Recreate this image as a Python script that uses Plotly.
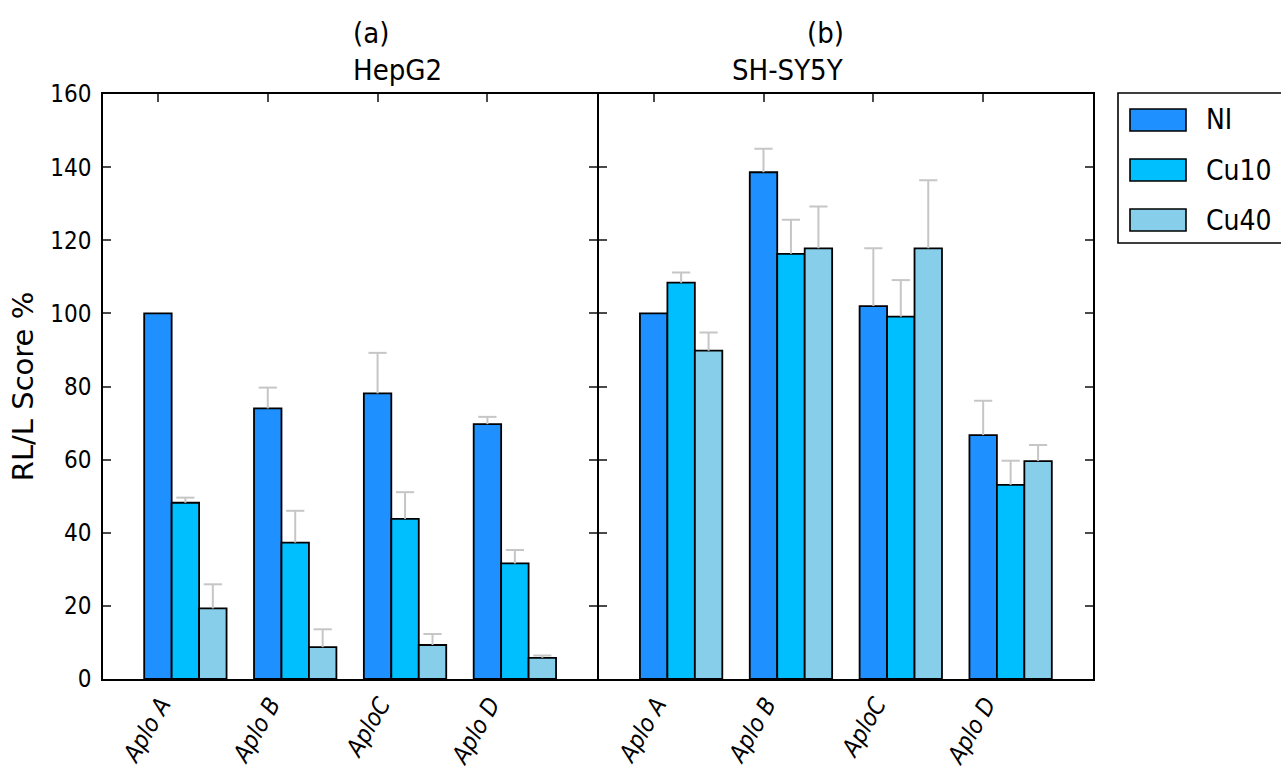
import plotly.graph_objects as go

# Data
categories = ["Aplo A", "Aplo B", "AploC", "Aplo D"]
series_names = ["NI", "Cu10", "Cu40"]
colors = ["#1E90FF", "#00BFFF", "#87CEEB"]

hepg2_mean = {
    "NI":   [100.0, 74.0, 78.1, 69.7],
    "Cu10": [48.2, 37.3, 43.8, 31.6],
    "Cu40": [19.3, 8.7, 9.3, 5.8],
}
hepg2_sd = {
    "NI":   [0.0, 5.7, 11.1, 2.0],
    "Cu10": [1.4, 8.7, 7.3, 3.7],
    "Cu40": [6.6, 4.9, 3.0, 0.6],
}
shsy5y_mean = {
    "NI":   [100.0, 138.6, 102.0, 66.7],
    "Cu10": [108.4, 116.3, 99.1, 53.1],
    "Cu40": [89.8, 117.8, 117.8, 59.6],
}
shsy5y_sd = {
    "NI":   [0.0, 6.4, 15.8, 9.4],
    "Cu10": [2.8, 9.3, 10.0, 6.6],
    "Cu40": [5.0, 11.4, 18.6, 4.4],
}
y_ticks = [0, 20, 40, 60, 80, 100, 120, 140, 160]

BAR_W = 0.25
FONT = "DejaVu Sans Condensed, DejaVu Sans, sans-serif"
ERR_COLOR = "#c6c6c6"

# Page geometry (pixels)
W, H = 1281, 774
L, R, T, B = 103, 188, 94, 95
plot_w = W - L - R
plot_h = H - T - B
gap = 1.5 / plot_w  # lets the two shared border lines coincide

fig = go.Figure()

panels = [
    ("x", "y", hepg2_mean, hepg2_sd),
    ("x2", "y2", shsy5y_mean, shsy5y_sd),
]
for xa, ya, means, sds in panels:
    for k, name in enumerate(series_names):
        xs = [i + k * BAR_W for i in range(len(categories))]
        fig.add_trace(
            go.Bar(
                x=xs, y=means[name], width=BAR_W, name=name,
                xaxis=xa, yaxis=ya,
                marker=dict(color=colors[k], line=dict(color="black", width=1.8)),
                error_y=dict(type="data", symmetric=False, array=sds[name],
                             arrayminus=[0] * len(categories),
                             color=ERR_COLOR, thickness=2, width=0),
                showlegend=False,
            )
        )
    # error-bar caps (upper end only)
    for k, name in enumerate(series_names):
        xs = [i + k * BAR_W for i in range(len(categories))]
        tops = [m + s if s > 0 else None for m, s in zip(means[name], sds[name])]
        fig.add_trace(
            go.Scatter(
                x=xs, y=tops, xaxis=xa, yaxis=ya, mode="markers",
                marker=dict(symbol="line-ew", size=13, color=ERR_COLOR,
                            line=dict(color=ERR_COLOR, width=2)),
                showlegend=False, hoverinfo="skip",
            )
        )

axis_common = dict(
    showline=True, linecolor="black", linewidth=1.6, mirror="ticks",
    ticks="inside", ticklen=8, tickcolor="#4a4a4a", tickwidth=1.5,
    showgrid=False, zeroline=False, automargin=False,
)
xaxis_common = dict(
    range=[-0.5, 4.0],
    tickvals=list(range(len(categories))),
    ticktext=categories,
    tickangle=-60,
    tickfont=dict(family=FONT, size=24, color="black", style="italic"),
    ticklabelshift=3,
    ticklabelstandoff=0,
    layer="below traces",
    **axis_common,
)
yaxis_common = dict(range=[0, 160], tickvals=y_ticks, **axis_common)

fig.update_layout(
    xaxis=dict(domain=[0, 0.5 - gap / 2], anchor="y", **xaxis_common),
    xaxis2=dict(domain=[0.5 + gap / 2, 1], anchor="y2", **xaxis_common),
    yaxis=dict(anchor="x", tickfont=dict(family=FONT, size=24, color="black"),
               ticklabelstandoff=5,
               title=dict(text="RL/L Score %", standoff=8,
                          font=dict(family="DejaVu Sans, sans-serif", size=29, color="black")),
               **yaxis_common),
    yaxis2=dict(anchor="x2", matches="y", showticklabels=False, **yaxis_common),
)

def px_x(p):
    return (p - L) / plot_w

def px_y(p):
    return (H - B - p) / plot_h

# Panel titles
titles = [("(a)", "HepG2", 0.25), ("(b)", "SH-SY5Y", 0.75)]
for letter, cell, xc in titles:
    fig.add_annotation(x=xc, y=px_y(33), xref="paper", yref="paper", yanchor="middle",
                       text=letter, showarrow=False,
                       font=dict(family=FONT, size=29, color="black"))
    fig.add_annotation(x=xc, y=px_y(70), xref="paper", yref="paper", yanchor="middle",
                       text=cell, showarrow=False,
                       font=dict(family=FONT, size=29, color="black"))

# Legend box with wide patches
fig.add_shape(type="rect", xref="paper", yref="paper",
              x0=px_x(1118), x1=px_x(1300), y0=px_y(243), y1=px_y(93),
              line=dict(color="black", width=1.6), fillcolor="white")
for k, name in enumerate(series_names):
    yc = 120 + 50 * k
    fig.add_shape(type="rect", xref="paper", yref="paper",
                  x0=px_x(1130), x1=px_x(1186), y0=px_y(yc + 11), y1=px_y(yc - 11),
                  line=dict(color="black", width=1.6), fillcolor=colors[k])
    fig.add_annotation(x=px_x(1204), y=px_y(yc), xref="paper", yref="paper",
                       xanchor="left", yanchor="middle", text=name, showarrow=False,
                       font=dict(family=FONT, size=28, color="black"))

fig.update_layout(
    width=W, height=H,
    margin=dict(l=L, r=R, t=T, b=B, autoexpand=False),
    paper_bgcolor="white", plot_bgcolor="white",
    barmode="overlay", showlegend=False,
)

fig.write_html("out.html")
